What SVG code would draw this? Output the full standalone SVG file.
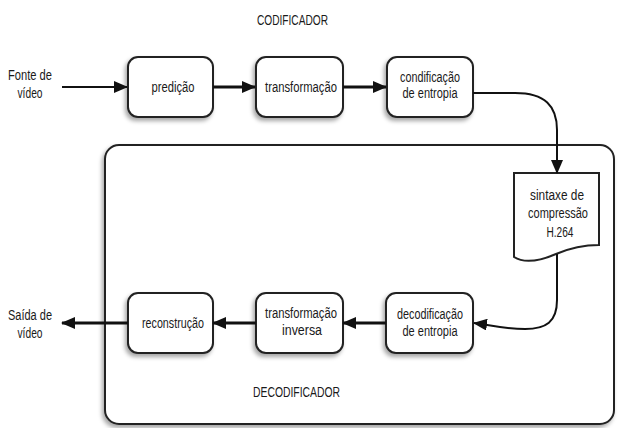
<svg xmlns="http://www.w3.org/2000/svg" width="619" height="428" viewBox="0 0 619 428">
  <defs>
    <filter id="shadow" x="-20%" y="-20%" width="140%" height="150%">
      <feDropShadow dx="-2" dy="3" stdDeviation="2" flood-color="#000" flood-opacity="0.35"/>
    </filter>
    <marker id="arrow" viewBox="0 0 14 12" refX="13" refY="6" markerWidth="14" markerHeight="12" markerUnits="userSpaceOnUse" orient="auto">
      <path d="M0,0 L14,6 L0,12 Z" fill="#111"/>
    </marker>
  </defs>
  <style>
    .box { fill: #fff; stroke: #222; stroke-width: 2; filter: url(#shadow); }
    .doc { fill: #fff; stroke: #222; stroke-width: 2; }
    .lbl { font-family: "Liberation Sans", Arial, sans-serif; font-size: 15.5px; fill: #1a1a1a; text-anchor: middle; }
    .edge { fill: none; stroke: #111; stroke-width: 2; }
    .thick { stroke-width: 3; }
  </style>

  <rect width="619" height="428" fill="#fff"/>

  <!-- decoder frame -->
  <g id="decodificador">
    <rect class="box" x="105" y="145" width="509" height="279" rx="14"/>
    <text class="lbl" x="296.5" y="397" textLength="87" lengthAdjust="spacingAndGlyphs">DECODIFICADOR</text>
  </g>

  <text id="codificador" class="lbl" x="292.5" y="25" textLength="71" lengthAdjust="spacingAndGlyphs">CODIFICADOR</text>

  <!-- encoder chain -->
  <g id="predicao">
    <rect class="box" x="128" y="57" width="85" height="60" rx="10"/>
    <text class="lbl" x="173" y="92" textLength="43" lengthAdjust="spacingAndGlyphs">predição</text>
  </g>
  <g id="transformacao">
    <rect class="box" x="256" y="57" width="87" height="60" rx="10"/>
    <text class="lbl" x="301" y="92" textLength="72" lengthAdjust="spacingAndGlyphs">transformação</text>
  </g>
  <g id="codificacao-entropia">
    <rect class="box" x="387" y="57" width="86" height="60" rx="10"/>
    <text class="lbl" x="430" y="82" textLength="60" lengthAdjust="spacingAndGlyphs">condificação</text>
    <text class="lbl" x="430" y="98" textLength="55" lengthAdjust="spacingAndGlyphs">de entropia</text>
  </g>

  <!-- bitstream document -->
  <g id="sintaxe">
    <path class="doc" d="M514,173 H599 V245 C585,245 570,248 556,254 C542,260 525,264 514,257 Z"/>
    <text class="lbl" x="557" y="200" textLength="54" lengthAdjust="spacingAndGlyphs">sintaxe de</text>
    <text class="lbl" x="558" y="218" textLength="60" lengthAdjust="spacingAndGlyphs">compressão</text>
    <text class="lbl" x="560" y="237" textLength="27" lengthAdjust="spacingAndGlyphs">H.264</text>
  </g>

  <!-- decoder chain -->
  <g id="decodificacao-entropia">
    <rect class="box" x="386" y="293" width="87" height="60" rx="10"/>
    <text class="lbl" x="430" y="319" textLength="66" lengthAdjust="spacingAndGlyphs">decodificação</text>
    <text class="lbl" x="430" y="336" textLength="55" lengthAdjust="spacingAndGlyphs">de entropia</text>
  </g>
  <g id="transformacao-inversa">
    <rect class="box" x="256" y="293" width="87" height="60" rx="10"/>
    <text class="lbl" x="301" y="318" textLength="72" lengthAdjust="spacingAndGlyphs">transformação</text>
    <text class="lbl" x="302" y="335" textLength="40" lengthAdjust="spacingAndGlyphs">inversa</text>
  </g>
  <g id="reconstrucao">
    <rect class="box" x="128" y="293" width="85" height="60" rx="10"/>
    <text class="lbl" x="173" y="328" textLength="62" lengthAdjust="spacingAndGlyphs">reconstrução</text>
  </g>

  <!-- external input / output -->
  <g id="fonte">
    <text class="lbl" x="30" y="80" textLength="44" lengthAdjust="spacingAndGlyphs">Fonte de</text>
    <text class="lbl" x="30" y="98" textLength="25" lengthAdjust="spacingAndGlyphs">vídeo</text>
  </g>
  <g id="saida">
    <text class="lbl" x="30" y="320" textLength="44" lengthAdjust="spacingAndGlyphs">Saída de</text>
    <text class="lbl" x="30" y="338" textLength="25" lengthAdjust="spacingAndGlyphs">vídeo</text>
  </g>

  <!-- connectors -->
  <g id="connectors">
    <path class="edge" d="M62,87 H127" marker-end="url(#arrow)"/>
    <path class="edge thick" d="M213,87 H255" marker-end="url(#arrow)"/>
    <path class="edge thick" d="M343,87 H386" marker-end="url(#arrow)"/>
    <path class="edge" d="M473,93 H515 C545,93 557,106 557,130 V173" marker-end="url(#arrow)"/>
    <path class="edge" d="M557,254 V300 C557,322 546,329 525,329 C505,329 490,325 474,323" marker-end="url(#arrow)"/>
    <path class="edge thick" d="M386,323 H343" marker-end="url(#arrow)"/>
    <path class="edge thick" d="M256,323 H213" marker-end="url(#arrow)"/>
    <path class="edge thick" d="M128,323 H62" marker-end="url(#arrow)"/>
  </g>
</svg>
